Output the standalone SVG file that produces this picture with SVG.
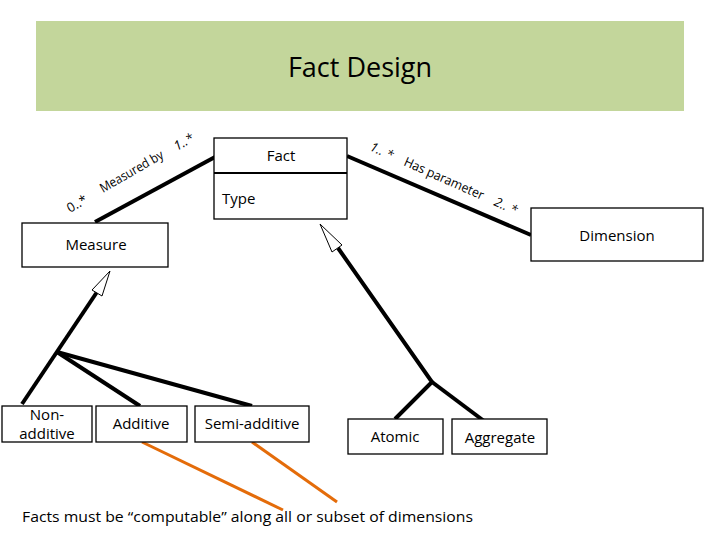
<svg xmlns="http://www.w3.org/2000/svg" width="720" height="540" viewBox="0 0 720 540">
<style>
.box{fill:#fff;stroke:#000;stroke-width:1.3}
.t{font-family:"Open Sans","Liberation Sans",sans-serif;font-size:15px;fill:#000}
.c{text-anchor:middle}
.lbl{font-family:"Open Sans","Liberation Sans",sans-serif;font-size:13px;fill:#000}
.ln{stroke:#000;stroke-width:4;fill:none}
.or{stroke:#e46c0a;stroke-width:3;fill:none}
.tri{fill:#fff;stroke:#000;stroke-width:1}
</style>
<rect x="36" y="21" width="648" height="90" fill="#c3d69b"/>
<text x="360" y="77" class="t c" style="font-size:27px">Fact Design</text>

<g id="connectors">
<line class="ln" x1="95" y1="222" x2="215" y2="157"/>
<line class="ln" x1="347" y1="156" x2="531" y2="235"/>
<polyline class="ln" points="22,404 97,292"/>
<polyline class="ln" points="57,352 140,406"/>
<polyline class="ln" points="57,352 252,406"/>
<polygon class="tri" points="110,271 92,290 102,296"/>
<polyline class="ln" points="338,248 432,382 395,419"/>
<polyline class="ln" points="432,382 484,421"/>
<polygon class="tri" points="320,224 332,252 342,245"/>
<line class="or" x1="142" y1="442" x2="283" y2="510"/>
<line class="or" x1="252" y1="442" x2="337" y2="502"/>
</g>

<g id="label-measured">
<text class="lbl" transform="translate(70,213) rotate(-30)">0..*</text>
<text class="lbl" transform="translate(103,193) rotate(-30)" textLength="71" lengthAdjust="spacingAndGlyphs">Measured by</text>
<text class="lbl" transform="translate(177,151) rotate(-30)" font-style="italic">1..*</text>
</g>
<g id="label-param">
<text class="lbl" transform="translate(369,150) rotate(24)" font-style="italic">1.. *</text>
<text class="lbl" transform="translate(403,165) rotate(24)" textLength="86" lengthAdjust="spacingAndGlyphs">Has parameter</text>
<text class="lbl" transform="translate(493,205) rotate(24)" font-style="italic">2.. *</text>
</g>

<g id="fact">
<rect class="box" x="214" y="138" width="133" height="81"/>
<line x1="214" y1="173" x2="347" y2="173" stroke="#000" stroke-width="2"/>
<text x="281" y="161" class="t c">Fact</text>
<text x="222" y="204" class="t">Type</text>
</g>
<g id="measure">
<rect class="box" x="22" y="223" width="146" height="44"/>
<text x="96" y="250" class="t c">Measure</text>
</g>
<g id="dimension">
<rect class="box" x="531" y="208" width="172" height="53"/>
<text x="617" y="241" class="t c">Dimension</text>
</g>
<g id="nonadditive">
<rect class="box" x="2" y="406" width="90" height="36"/>
<text x="47" y="420" class="t c">Non-</text>
<text x="47" y="439" class="t c">additive</text>
</g>
<g id="additive">
<rect class="box" x="96" y="406" width="91" height="36"/>
<text x="141" y="429" class="t c">Additive</text>
</g>
<g id="semiadditive">
<rect class="box" x="195" y="406" width="114" height="36"/>
<text x="252" y="429" class="t c">Semi-additive</text>
</g>
<g id="atomic">
<rect class="box" x="348" y="419" width="95" height="35"/>
<text x="395" y="442" class="t c">Atomic</text>
</g>
<g id="aggregate">
<rect class="box" x="452" y="419" width="95" height="35"/>
<text x="500" y="443" class="t c">Aggregate</text>
</g>
<text x="22" y="522" class="t" textLength="451" lengthAdjust="spacingAndGlyphs">Facts must be “computable” along all or subset of dimensions</text>
</svg>
